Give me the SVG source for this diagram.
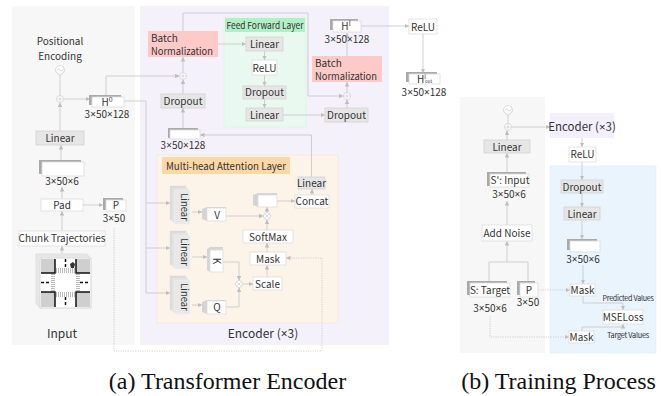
<svg xmlns="http://www.w3.org/2000/svg" width="662" height="396" viewBox="0 0 662 396">
<style>
.lbl{font-family:"Noto Sans CJK SC","Noto Sans",sans-serif;font-size:10px;fill:#333;text-anchor:middle}
.x{font-family:"Noto Sans","DejaVu Sans",sans-serif}
.lft{text-anchor:start}
.sm{font-size:9.5px}
.xs{font-size:7.5px;letter-spacing:-0.3px}
.cap{font-family:"Liberation Serif","Times New Roman",serif;font-size:24px;fill:#111;text-anchor:middle}
.gbox{fill:#e6e6e6;stroke:#d2d2d2;stroke-width:0.8}
.wbox{fill:#fff;stroke:#dcdcdc;stroke-width:0.8}
.pink{fill:#fdcac8}
.shd{fill:#a9a9a9}
.conn{fill:none;stroke:#c9c9c9;stroke-width:0.9}
.arr{marker-end:url(#ah)}
.dot{stroke-dasharray:1.2 1.2}
.circ{fill:#fff;stroke:#cfcfcf;stroke-width:0.8}
.mark{fill:none;stroke:#cfcfcf;stroke-width:0.8}
.ls1{fill:#d6d6d6;stroke:#e4e4e4;stroke-width:0.6}
.ls2{fill:#dedede;stroke:#ececec;stroke-width:0.6}
.ls3{fill:#e8e8e8;stroke:#f2f2f2;stroke-width:0.6}
</style>
<defs>
<marker id="ah" viewBox="0 0 6 6" refX="6" refY="3" markerWidth="4.5" markerHeight="4.5" markerUnits="userSpaceOnUse" orient="auto">
<path d="M0,0 L6,3 L0,6 z" fill="#bdbdbd"/>
</marker>
<g id="linstack">
<rect class="ls1" x="0" y="0" width="16" height="34"/>
<rect class="ls2" x="2" y="2" width="16" height="34"/>
<rect class="ls3" x="4" y="4" width="16" height="34"/>
</g>
<pattern id="stripeV" width="2" height="4" patternUnits="userSpaceOnUse">
<rect width="2" height="4" fill="#fff"/><rect width="1" height="4" fill="#bbb"/>
</pattern>
<pattern id="stripeH" width="4" height="2" patternUnits="userSpaceOnUse">
<rect width="4" height="2" fill="#fff"/><rect width="4" height="1" fill="#bbb"/>
</pattern>
</defs>

<rect width="662" height="396" fill="#fff"/>

<!-- panel backgrounds -->
<g id="panels">
<rect x="12" y="6" width="123" height="339" fill="#f7f7f7"/>
<rect x="140" y="6" width="249" height="339" fill="#f4f1fb"/>
<rect x="224" y="17" width="82" height="110" fill="#e9f9ef" stroke="#d9f1e1" stroke-width="0.6"/>
<rect x="225" y="18" width="80" height="14" fill="#b3efc6"/>
<rect x="157" y="155" width="181" height="168" fill="#fdf4e9" stroke="#f6e4cf" stroke-width="0.6"/>
<rect x="162" y="157" width="128" height="17" fill="#fdd7a5"/>
<rect x="460" y="97" width="85" height="256" fill="#f7f7f7"/>
<rect x="550" y="166" width="106" height="187" fill="#eaf4fd" stroke="#dbeaf7" stroke-width="0.6"/>
<text class="lbl sm" x="265" y="29" textLength="77" lengthAdjust="spacingAndGlyphs">Feed Forward Layer</text>
<text class="lbl lft" x="166" y="170" textLength="120" lengthAdjust="spacingAndGlyphs">Multi-head Attention Layer</text>
<text class="lbl" x="263" y="338" style="font-size:12px">Encoder (<tspan class="x">×</tspan>3)</text>
<text class="lbl" x="62" y="338" style="font-size:12px">Input</text>
</g>

<!-- connectors -->
<g id="connectors">
<line class="conn" x1="60" y1="74.5" x2="60" y2="95.5"/>
<path class="conn arr" d="M60,131 V102.5"/>
<path class="conn arr" d="M63.5,99 H90"/>
<path class="conn arr" d="M61,160 V145"/>
<path class="conn arr" d="M62,199 V187"/>
<path class="conn arr" d="M83,205 H103"/>
<path class="conn arr" d="M62,231 V211"/>
<path class="conn arr" d="M62,254 V246"/>
<path class="conn arr" d="M106,95 V76 H179.5"/>
<path class="conn" d="M124,101 H146 V293"/>
<path class="conn arr" d="M146,203 H170"/>
<path class="conn arr" d="M146,248 H170"/>
<path class="conn arr" d="M146,293 H170"/>
<path class="conn arr" d="M183,72.5 V57"/>
<path class="conn arr" d="M183,94 V79.5"/>
<path class="conn arr" d="M183,128 V108"/>
<path class="conn arr" d="M183,31 V13 H308 V96 H343.5"/>
<path class="conn arr" d="M218,44 H246"/>
<path class="conn arr" d="M264.5,51 V60"/>
<path class="conn arr" d="M264.5,75 V86"/>
<path class="conn arr" d="M264.5,99 V108"/>
<path class="conn arr" d="M283,115 H325"/>
<path class="conn arr" d="M347,108 V99.5"/>
<path class="conn arr" d="M347,92.5 V82"/>
<path class="conn arr" d="M347,56 V33"/>
<path class="conn arr" d="M361,26 H409"/>
<path class="conn arr" d="M423,34 V73"/>
<path class="conn arr" d="M192,212 H202"/>
<path class="conn arr" d="M192,257 H207"/>
<path class="conn arr" d="M192,305 H202"/>
<path class="conn arr" d="M223,262 H239 V280.5"/>
<path class="conn arr" d="M226,307 H239 V287.5"/>
<path class="conn arr" d="M242.5,284 H253"/>
<path class="conn arr" d="M267,277 V265"/>
<path class="conn arr" d="M267,252 V243"/>
<path class="conn arr" d="M267,230 V219.5"/>
<path class="conn arr" d="M226,216 H263.5"/>
<path class="conn arr" d="M267,212.5 V207"/>
<path class="conn arr" d="M277,201 H295"/>
<path class="conn arr" d="M312,195 V189"/>
<path class="conn arr" d="M311.5,177 V135 H200"/>
<path class="conn dot arr" d="M114,228 V351 H322 V258 H286"/>
<!-- panel b -->
<line class="conn" x1="508" y1="114.5" x2="508" y2="123.5"/>
<path class="conn arr" d="M511.5,127 H550"/>
<path class="conn arr" d="M507,140 V130.5"/>
<path class="conn arr" d="M507,172 V153"/>
<path class="conn arr" d="M507,225 V201"/>
<path class="conn" d="M489,281 V262 H528 V281"/>
<path class="conn arr" d="M507,262 V241"/>
<path class="conn arr" d="M582,138 V147"/>
<path class="conn arr" d="M582,162 V180"/>
<path class="conn arr" d="M582,193 V207"/>
<path class="conn arr" d="M582,220 V239"/>
<path class="conn arr" d="M583,265 V284"/>
<path class="conn dot arr" d="M538,290 H570"/>
<path class="conn arr" d="M583,296 V303 H623 V310"/>
<path class="conn arr" d="M582,331 V327 H623 V324"/>
<path class="conn dot arr" d="M490,316 V337 H569"/>
</g>

<!-- nodes panel (a) -->
<g id="pos-enc">
<text class="lbl" x="60" y="44.5">Positional</text>
<text class="lbl" x="60" y="59.5">Encoding</text>
<circle class="circ" cx="60" cy="70" r="4.5"/>
<path class="mark" d="M57,70.5 Q58.5,67.5 60,70 T63,69.5"/>
</g>
<g id="plus-pe">
<circle class="circ" cx="60" cy="99" r="3.5"/>
<path class="mark" d="M57.5,99 H62.5 M60,96.5 V101.5"/>
</g>
<g id="linear-in">
<rect class="gbox" x="36" y="131" width="48" height="14"/>
<text class="lbl" x="60" y="141.5">Linear</text>
</g>
<g id="tensor-in">
<rect class="shd" x="39" y="160" width="42" height="14"/>
<rect class="wbox" x="42" y="162" width="42" height="14"/>
<text class="lbl" x="62" y="184.5">3<tspan class="x">×</tspan>50<tspan class="x">×</tspan>6</text>
</g>
<g id="pad">
<rect class="wbox" x="41" y="199" width="42" height="12"/>
<text class="lbl" x="62" y="208.5">Pad</text>
</g>
<g id="p-a">
<rect class="shd" x="103" y="198" width="20" height="12"/>
<rect class="wbox" x="106" y="200" width="20" height="11"/>
<text class="lbl" x="116" y="208.5">P</text>
<text class="lbl" x="114" y="222">3<tspan class="x">×</tspan>50</text>
</g>
<g id="chunk">
<rect class="wbox" x="19" y="231" width="86" height="15"/>
<text class="lbl" x="62" y="242">Chunk Trajectories</text>
</g>
<g id="input-img">
<rect x="36" y="254" width="51" height="50" fill="#eeeeee" stroke="#d0d0d0" stroke-width="0.6"/>
<rect x="38" y="256" width="51" height="50" fill="#f3f3f3" stroke="#d0d0d0" stroke-width="0.6"/>
<rect x="40" y="258" width="51" height="50" fill="#fff" stroke="#bbb" stroke-width="0.6"/>
<rect x="41" y="259" width="14" height="14" fill="#cfcfcf"/>
<rect x="76" y="259" width="14" height="14" fill="#cfcfcf"/>
<rect x="41" y="292" width="14" height="15" fill="#cfcfcf"/>
<rect x="76" y="292" width="14" height="15" fill="#cfcfcf"/>
<rect x="56" y="268" width="19" height="5" fill="url(#stripeV)"/>
<rect x="56" y="292" width="19" height="5" fill="url(#stripeV)"/>
<rect x="51" y="274" width="4" height="17" fill="url(#stripeH)"/>
<rect x="76" y="274" width="4" height="17" fill="url(#stripeH)"/>
<path d="M55,259 V273 H41 M76,259 V273 H90 M55,307 V292 H41 M76,307 V292 H90" fill="none" stroke="#111" stroke-width="1.5"/>
<path d="M65.5,259 V268 M65.5,297 V307 M41,282.5 H51 M80,282.5 H90" fill="none" stroke="#111" stroke-width="1.5" stroke-dasharray="3 2"/>
<path d="M70,264 l3,-2 l2,2 l-1,4 l-3,0 z" fill="#333"/>
</g>
<g id="h0">
<rect class="shd" x="89" y="95" width="32" height="10"/>
<rect class="wbox" x="92" y="97" width="32" height="10"/>
<text class="lbl" x="107" y="105.5">H<tspan dy="-4" style="font-size:7px">0</tspan></text>
<text class="lbl" x="107" y="118">3<tspan class="x">×</tspan>50<tspan class="x">×</tspan>128</text>
</g>

<!-- encoder -->
<g id="bn1">
<rect class="pink" x="148" y="31" width="70" height="26"/>
<text class="lbl lft" x="151" y="42">Batch</text>
<text class="lbl lft" x="151" y="54.5" textLength="62" lengthAdjust="spacingAndGlyphs">Normalization</text>
</g>
<g id="plus1">
<circle class="circ" cx="183" cy="76" r="3.5"/>
<path class="mark" d="M180.5,76 H185.5 M183,73.5 V78.5"/>
</g>
<g id="dropout1">
<rect class="gbox" x="161" y="94" width="44" height="14"/>
<text class="lbl" x="183" y="104.5">Dropout</text>
</g>
<g id="tensor-att">
<rect class="shd" x="168" y="128" width="30" height="10"/>
<rect class="wbox" x="170" y="130" width="30" height="9"/>
<text class="lbl" x="183" y="148.5">3<tspan class="x">×</tspan>50<tspan class="x">×</tspan>128</text>
</g>
<g id="ff-linear1">
<rect class="gbox" x="246" y="37" width="37" height="14"/>
<text class="lbl" x="264.5" y="47.5">Linear</text>
</g>
<g id="ff-relu">
<rect class="wbox" x="252" y="60" width="25" height="15"/>
<text class="lbl" x="264.5" y="71.5">ReLU</text>
</g>
<g id="ff-dropout">
<rect class="gbox" x="243" y="86" width="43" height="13"/>
<text class="lbl" x="264.5" y="96">Dropout</text>
</g>
<g id="ff-linear2">
<rect class="gbox" x="246" y="108" width="37" height="13"/>
<text class="lbl" x="264.5" y="118.5">Linear</text>
</g>
<g id="dropout2">
<rect class="gbox" x="325" y="108" width="43" height="14"/>
<text class="lbl" x="346.5" y="118.5">Dropout</text>
</g>
<g id="plus2">
<circle class="circ" cx="347" cy="96" r="3.5"/>
<path class="mark" d="M344.5,96 H349.5 M347,93.5 V98.5"/>
</g>
<g id="bn2">
<rect class="pink" x="312" y="56" width="70" height="26"/>
<text class="lbl lft" x="315" y="67">Batch</text>
<text class="lbl lft" x="315" y="79.5" textLength="62" lengthAdjust="spacingAndGlyphs">Normalization</text>
</g>
<g id="hl">
<rect class="shd" x="330" y="19" width="28" height="11"/>
<rect class="wbox" x="333" y="21" width="28" height="11"/>
<text class="lbl" x="346" y="30">H<tspan dy="-4" style="font-size:7px">l</tspan></text>
<text class="lbl" x="347" y="43">3<tspan class="x">×</tspan>50<tspan class="x">×</tspan>128</text>
</g>
<g id="relu-out">
<rect class="wbox" x="409" y="19" width="28" height="15"/>
<text class="lbl" x="423" y="30.5">ReLU</text>
</g>
<g id="hout">
<rect class="shd" x="406" y="72" width="31" height="10"/>
<rect class="wbox" x="409" y="74" width="31" height="10"/>
<text class="lbl lft" x="417" y="82.5">H<tspan dy="-4" style="font-size:6px">l</tspan><tspan dx="-1" dy="4" style="font-size:4.5px">out</tspan></text>
<text class="lbl" x="424" y="95.5">3<tspan class="x">×</tspan>50<tspan class="x">×</tspan>128</text>
</g>

<!-- attention -->
<g id="linear-v">
<use href="#linstack" x="170" y="186"/>
<text class="lbl sm" transform="translate(184,207) rotate(90)" y="3.5">Linear</text>
</g>
<g id="linear-k">
<use href="#linstack" x="170" y="231"/>
<text class="lbl sm" transform="translate(184,252) rotate(90)" y="3.5">Linear</text>
</g>
<g id="linear-q">
<use href="#linstack" x="170" y="276"/>
<text class="lbl sm" transform="translate(184,297) rotate(90)" y="3.5">Linear</text>
</g>
<g id="v">
<path d="M202,209 L207,207 L226,207 L226,221 L207,221 L202,219 z" fill="#d4d4d4"/>
<rect class="wbox" x="207" y="208" width="19" height="13"/>
<text class="lbl" x="217" y="218.5">V</text>
</g>
<g id="k">
<path d="M207,249 L210,247 L223,247 L223,272 L210,272 L207,270 z" fill="#d4d4d4"/>
<rect class="wbox" x="210" y="250" width="13" height="22"/>
<text class="lbl" transform="translate(216.5,261) rotate(90)" y="3.5">K</text>
</g>
<g id="q">
<path d="M202,302 L207,300 L226,300 L226,314 L207,314 L202,312 z" fill="#d4d4d4"/>
<rect class="wbox" x="207" y="301" width="19" height="13"/>
<text class="lbl" x="217" y="311">Q</text>
</g>
<g id="mul1">
<circle class="circ" cx="239" cy="284" r="3.5"/>
<path class="mark" d="M237.2,282.2 L240.8,285.8 M240.8,282.2 L237.2,285.8"/>
</g>
<g id="scale">
<rect class="wbox" x="253" y="277" width="29" height="13"/>
<text class="lbl" x="267.5" y="287.5">Scale</text>
</g>
<g id="mask-a">
<rect class="wbox" x="250" y="252" width="36" height="13"/>
<text class="lbl" x="268" y="262.5">Mask</text>
</g>
<g id="softmax">
<rect class="wbox" x="243" y="230" width="50" height="13"/>
<text class="lbl" x="268" y="240.5">SoftMax</text>
</g>
<g id="mul2">
<circle class="circ" cx="267" cy="216" r="3.5"/>
<path class="mark" d="M265.2,214.2 L268.8,217.8 M268.8,214.2 L265.2,217.8"/>
</g>
<g id="att-out">
<path d="M253,195 L258,193 L277,193 L277,207 L258,207 L253,205 z" fill="#d4d4d4"/>
<rect class="wbox" x="258" y="195" width="19" height="12"/>
</g>
<g id="concat">
<rect class="wbox" x="295" y="195" width="34" height="13"/>
<text class="lbl" x="312" y="205">Concat</text>
</g>
<g id="linear-o">
<rect class="gbox" x="298" y="177" width="27" height="12"/>
<text class="lbl" x="311.5" y="186.5">Linear</text>
</g>

<!-- panel (b) -->
<g id="b-encoder">
<rect x="550" y="113" width="64" height="25" fill="#f3effc"/>
<text class="lbl" x="582" y="130.5" style="font-size:11.5px">Encoder (<tspan class="x">×</tspan>3)</text>
</g>
<g id="b-pe">
<circle class="circ" cx="508" cy="110" r="4.5"/>
<path class="mark" d="M505,110.5 Q506.5,107.5 508,110 T511,109.5"/>
<circle class="circ" cx="508" cy="127" r="3.5"/>
<path class="mark" d="M505.5,127 H510.5 M508,124.5 V129.5"/>
</g>
<g id="b-linear">
<rect class="gbox" x="484" y="140" width="46" height="13"/>
<text class="lbl" x="507" y="150.5">Linear</text>
</g>
<g id="b-sinput">
<rect class="shd" x="487" y="172" width="39" height="14"/>
<rect class="wbox" x="490" y="174" width="39" height="13"/>
<text class="lbl" x="510" y="184">S': Input</text>
<text class="lbl" x="509" y="198">3<tspan class="x">×</tspan>50<tspan class="x">×</tspan>6</text>
</g>
<g id="b-noise">
<rect class="wbox" x="482" y="225" width="50" height="16"/>
<text class="lbl" x="507" y="237">Add Noise</text>
</g>
<g id="b-target">
<rect class="shd" x="467" y="281" width="40" height="14"/>
<rect class="wbox" x="470" y="283" width="40" height="14"/>
<text class="lbl" x="490" y="293.5">S: Target</text>
<text class="lbl" x="490" y="312">3<tspan class="x">×</tspan>50<tspan class="x">×</tspan>6</text>
</g>
<g id="b-p">
<rect class="shd" x="517" y="281" width="18" height="14"/>
<rect class="wbox" x="520" y="283" width="18" height="14"/>
<text class="lbl" x="529" y="293.5">P</text>
<text class="lbl" x="528" y="306">3<tspan class="x">×</tspan>50</text>
</g>
<g id="b-relu">
<rect class="wbox" x="569" y="147" width="27" height="15"/>
<text class="lbl" x="582.5" y="158">ReLU</text>
</g>
<g id="b-dropout">
<rect class="gbox" x="561" y="180" width="42" height="13"/>
<text class="lbl" x="582" y="190.5">Dropout</text>
</g>
<g id="b-linear2">
<rect class="gbox" x="564" y="207" width="36" height="13"/>
<text class="lbl" x="582" y="217.5">Linear</text>
</g>
<g id="b-tensor">
<rect class="shd" x="567" y="239" width="30" height="11"/>
<rect class="wbox" x="570" y="241" width="30" height="11"/>
<text class="lbl" x="583" y="262.5">3<tspan class="x">×</tspan>50<tspan class="x">×</tspan>6</text>
</g>
<g id="b-mask1">
<rect class="wbox" x="570" y="284" width="25" height="12"/>
<text class="lbl" x="582.5" y="293.5">Mask</text>
</g>
<g id="b-mse">
<rect class="wbox" x="603" y="310" width="40" height="14"/>
<text class="lbl" x="623" y="320.5">MSELoss</text>
</g>
<g id="b-mask2">
<rect class="wbox" x="569" y="331" width="25" height="12"/>
<text class="lbl" x="581.5" y="340.5">Mask</text>
</g>
<text class="lbl xs" x="628" y="301" textLength="51" lengthAdjust="spacingAndGlyphs">Predicted Values</text>
<text class="lbl xs" x="628" y="338" textLength="42" lengthAdjust="spacingAndGlyphs">Target Values</text>

<!-- captions -->
<text class="cap" x="227.5" y="389">(a) Transformer Encoder</text>
<text class="cap" x="558.5" y="389">(b) Training Process</text>
</svg>
